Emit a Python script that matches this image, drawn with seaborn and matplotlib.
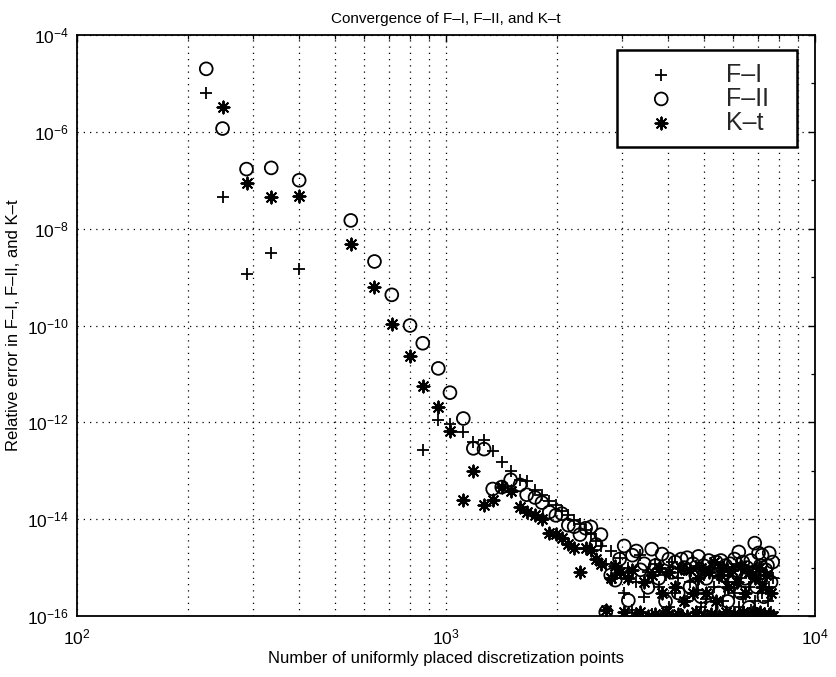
import numpy as np
import pandas as pd
import matplotlib
matplotlib.use("Agg")
import matplotlib.pyplot as plt
import seaborn as sns
from matplotlib.ticker import LogLocator, NullFormatter, FixedLocator

# ---- data ----
n_points = [224, 248, 288, 336, 400, 552, 640, 713, 799, 865,
            953, 1025, 1114, 1186, 1268, 1338, 1416, 1497, 1587, 1654,
            1743, 1820, 1905, 1985, 2060, 2145, 2225, 2307, 2390, 2470,
            2550, 2630, 2710, 2795, 2875, 2955, 3040, 3120, 3200, 3280,
            3365, 3445, 3525, 3610, 3690, 3770, 3850, 3935, 4015, 4095,
            4180, 4260, 4340, 4420, 4505, 4585, 4665, 4750, 4830, 4910,
            4990, 5075, 5155, 5235, 5320, 5400, 5480, 5560, 5645, 5725,
            5805, 5890, 5970, 6050, 6130, 6215, 6295, 6375, 6460, 6540,
            6620, 6700, 6785, 6865, 6945, 7030, 7110, 7190, 7270, 7355,
            7435, 7515, 7600, 7680]

nan = float("nan")
err_f1 = [6.4e-6, 4.6e-8, 1.15e-9, 3.2e-9, 1.44e-9, nan, nan, nan, nan, 2.7e-13,
          1.1e-12, 9.1e-13, 6.4e-13, 4.0e-13, 4.3e-13, 2.5e-13, 1.55e-13, 1.0e-13, 6.5e-14, 6.0e-14,
          4.0e-14, 3.2e-14, 2.4e-14, 2.0e-14, 1.5e-14, 1.2e-14, 9.5e-15, 8.0e-15, 6.0e-15, 5.0e-15,
          3.6e-15, 2.8e-15, 1.2e-15, 2.2e-15, 6e-16, 1.6e-15, 3e-16, 1.0e-15, 1.3e-16, 5e-16,
          1.8e-15, 2.5e-16, 8e-16, 1.1e-16, 1.2e-15, 4e-16, 1.0e-16, 7e-16, 1.5e-16, 1.3e-15,
          3e-16, 6e-16, 1.1e-16, 9e-16, 2e-16, 5e-16, 1.0e-16, 1.1e-15, 3.5e-16, 1.5e-16,
          7e-16, 2.2e-16, 1.0e-16, 9e-16, 4e-16, 1.2e-16, 6e-16, 1.0e-15, 2e-16, 1.1e-16,
          5e-16, 8e-16, 1.0e-16, 3e-16, 1.2e-15, 1.5e-16, 6e-16, 2.5e-16, 1.0e-16, 9e-16,
          4e-16, 1.3e-16, 7e-16, 2e-16, 1.0e-15, 1.1e-16, 5e-16, 3e-16, 1.0e-16, 8e-16,
          2e-16, 4e-16, 1.2e-16, 6e-16]

err_f2 = [2.0e-5, 1.17e-6, 1.7e-7, 1.8e-7, 1.0e-7, 1.48e-8, 2.1e-9, 4.3e-10, 1.0e-10, 4.3e-11,
          1.3e-11, 4.1e-12, 1.2e-12, 2.9e-13, 2.8e-13, 4.2e-14, 4.6e-14, 6.5e-14, 5.1e-14, 3.2e-14,
          2.8e-14, 2.2e-14, 1.4e-14, 1.2e-14, 1.3e-14, 7.5e-15, 7.0e-15, 4.8e-15, 6.5e-15, 6.9e-15,
          3.0e-15, 4.8e-15, 1.2e-16, 7e-16, 5.5e-16, 1.5e-15, 2.8e-15, 2.1e-16, 1.8e-15, 2.2e-15,
          9e-16, 1.2e-15, 3.9e-16, 2.4e-15, 1.1e-15, 6e-16, 1.9e-15, 2e-16, 1.5e-15, 8e-16,
          1.3e-15, 3e-16, 1.5e-15, 1.0e-15, 1.6e-15, 4e-16, 1.2e-15, 7e-16, 1.7e-15, 2.5e-16,
          1.1e-15, 6e-16, 1.4e-15, 1.5e-16, 9e-16, 1.3e-15, 3e-16, 1.4e-15, 7e-16, 1.1e-15,
          2e-16, 1.2e-15, 5e-16, 1.5e-15, 8e-16, 2.1e-15, 3e-16, 1.3e-15, 6e-16, 1.0e-15,
          1.5e-16, 1.4e-15, 8e-16, 3.2e-15, 4e-16, 2.0e-15, 1.1e-15, 1.8e-15, 2.5e-16, 9e-16,
          1.1e-15, 2.0e-15, 5e-16, 1.3e-15]

err_kt = [nan, 3.2e-6, 8.7e-8, 4.6e-8, 4.7e-8, 4.8e-9, 6.3e-10, 1.07e-10, 2.3e-11, 5.6e-12,
          2.1e-12, 6.6e-13, 2.5e-14, 1.0e-13, 2.0e-14, 2.5e-14, 4.6e-14, 3.9e-14, 1.8e-14, 1.4e-14,
          1.2e-14, 1.0e-14, 5.3e-15, 5.0e-15, 4e-15, 3.0e-15, 2.5e-15, 8e-16, 2.5e-15, 2.3e-15,
          1.5e-15, 1.2e-15, 1.3e-16, 6e-16, 1.1e-15, 8e-16, 1.2e-16, 6e-16, 9e-16, 1.0e-16,
          1.2e-16, 5e-16, 1.0e-16, 7e-16, 1.1e-16, 1.0e-15, 3e-16, 1.2e-16, 8e-16, 1.0e-16,
          4e-16, 1.1e-16, 1.0e-15, 2e-16, 1.0e-16, 9e-16, 3e-16, 1.2e-16, 6e-16, 1.0e-15,
          1.0e-16, 3e-16, 8e-16, 1.1e-16, 1.3e-15, 2e-16, 1.0e-16, 7e-16, 1.0e-15, 1.2e-16,
          4e-16, 1.0e-16, 9e-16, 1.1e-16, 5e-16, 1.0e-16, 1.1e-15, 1.2e-16, 3e-16, 1.0e-16,
          8e-16, 1.0e-16, 1.2e-16, 6e-16, 1.0e-16, 1.0e-15, 1.2e-16, 4e-16, 1.0e-16, 7e-16,
          1.0e-16, 1.1e-16, 3e-16, 1.0e-16]

series_labels = ["F\u2013I", "F\u2013II", "K\u2013t"]
y_major_ticks = [1e-16, 1e-14, 1e-12, 1e-10, 1e-8, 1e-6, 1e-4]
y_minor_ticks = [1e-15, 1e-13, 1e-11, 1e-9, 1e-7, 1e-5]
x_major_ticks = [1e2, 1e3, 1e4]

# ---- styling ----
sns.set_theme(style="white")
plt.rcParams['font.family'] = ['Liberation Sans', 'DejaVu Sans']
plt.rcParams['axes.unicode_minus'] = True

df = pd.DataFrame({"N": n_points, "F1": err_f1, "F2": err_f2, "Kt": err_kt})

W, H = 836, 677
fig = plt.figure(figsize=(W / 100, H / 100), dpi=100)
ax = fig.add_axes([77 / W, 1 - 616 / H, 738 / W, 581 / H])

asterisk = (8, 2, 0)
sns.scatterplot(data=df, x="N", y="F1", marker="+", s=65, color="black",
                linewidth=1.3, ax=ax, label=series_labels[0], zorder=3)
sns.scatterplot(data=df, x="N", y="F2", marker="o", s=85, facecolors="none",
                edgecolor="black", linewidth=1.3, ax=ax, label=series_labels[1], zorder=3)
sns.scatterplot(data=df, x="N", y="Kt", marker=asterisk, s=75, color="black",
                linewidth=1.4, ax=ax, label=series_labels[2], zorder=3)

ax.set_xscale("log")
ax.set_yscale("log")
ax.set_xlim(1e2, 1e4)
ax.set_ylim(1e-16, 1e-4)

ax.xaxis.set_major_locator(FixedLocator(x_major_ticks))
ax.xaxis.set_minor_locator(LogLocator(base=10, subs=np.arange(2, 10)))
ax.xaxis.set_minor_formatter(NullFormatter())
ax.yaxis.set_major_locator(FixedLocator(y_major_ticks))
ax.yaxis.set_minor_locator(FixedLocator(y_minor_ticks))
ax.yaxis.set_minor_formatter(NullFormatter())

ax.grid(False)
ax.grid(True, axis="x", which="both", linestyle=(0, (1, 4)), color="black", linewidth=0.9)
ax.grid(True, axis="y", which="major", linestyle=(0, (1, 4)), color="black", linewidth=0.9)

ax.tick_params(which="both", direction="in", top=True, right=True, colors="black",
               labelsize=12.5)
ax.tick_params(which="major", length=5, width=1.0)
ax.tick_params(which="minor", length=3, width=0.9)
ax.tick_params(axis="x", pad=8)
ax.tick_params(axis="y", pad=6)

for sp in ax.spines.values():
    sp.set_color("black")
    sp.set_linewidth(1.3)
    sp.set_visible(True)

ax.set_title("Convergence of F\u2013I, F\u2013II, and K\u2013t", fontsize=11, pad=9, color="black")
ax.set_xlabel("Number of uniformly placed discretization points", fontsize=12, labelpad=3, color="black")
ax.set_ylabel("Relative error in F\u2013I, F\u2013II, and K\u2013t", fontsize=12, labelpad=4, color="black")

leg_x0 = (617 - 77) / 738
leg_w = 180 / 738
leg_top = 1 - (50 - 35) / 581
leg = ax.legend(loc="upper left", bbox_to_anchor=(leg_x0, 0.0, leg_w, leg_top),
                mode="expand", borderaxespad=0, fontsize=18, frameon=True, fancybox=False,
                borderpad=0.5, handlelength=2.54, handletextpad=1.33, labelspacing=0.0)
leg.get_frame().set_edgecolor("black")
leg.get_frame().set_linewidth(1.8)
leg.get_frame().set_facecolor("white")
leg.get_frame().set_alpha(1.0)
leg.set_zorder(5)

fig.savefig("out.png", dpi=100, facecolor="white")
